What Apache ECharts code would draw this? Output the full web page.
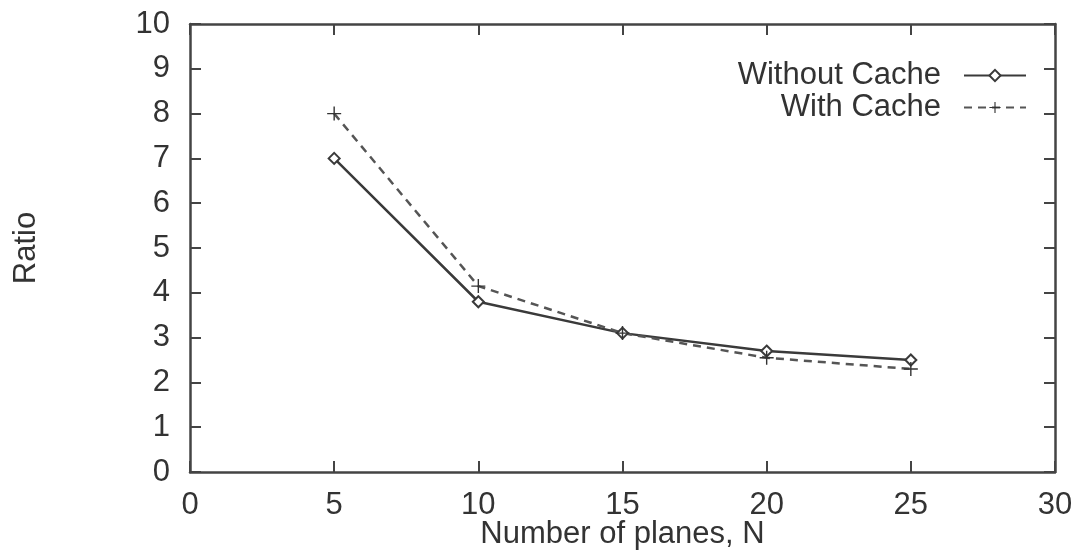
<!DOCTYPE html>
<html>
<head>
<meta charset="utf-8">
<script src="https://cdn.jsdelivr.net/npm/echarts@6/dist/echarts.min.js"></script>
<style>
html,body{margin:0;padding:0;background:#fff;}
#chart{width:1084px;height:555px;}
</style>
</head>
<body>
<div id="chart"></div>
<script>
const planes = [5, 10, 15, 20, 25];
const withoutCache = [7.0, 3.8, 3.1, 2.7, 2.5];
const withCache = [8.0, 4.15, 3.1, 2.55, 2.3];
const xTicks = [0, 5, 10, 15, 20, 25, 30];
const yTicks = [0, 1, 2, 3, 4, 5, 6, 7, 8, 9, 10];

const FONT = 'Liberation Sans';
const FS = 31;
const AXC = '#444';
const TXT = '#333';
const plusPath = 'path://M-1,-10H1V-1H10V1H1V10H-1V1H-10V-1H-1Z';

const chart = echarts.init(document.getElementById('chart'));
const baseAxis = {
  axisLine: {show: true, onZero: false, lineStyle: {color: AXC, width: 2.5}},
  axisTick: {show: true, inside: true, length: 11, lineStyle: {color: AXC, width: 2}},
  splitLine: {show: false}
};
chart.setOption({
  animation: false,
  backgroundColor: '#fff',
  grid: {left: 190, right: 29, top: 24, bottom: 83, containLabel: false, outerBoundsMode: 'none'},
  legend: {
    right: 52, top: 55, orient: 'vertical', align: 'right',
    itemWidth: 62, itemHeight: 14, itemGap: 1,
    textStyle: {fontFamily: FONT, fontSize: FS, color: TXT, lineHeight: 30, padding: [0, 18, 0, 0]},
    data: ['Without Cache', 'With Cache']
  },
  xAxis: [
    Object.assign({}, baseAxis, {
      type: 'value', min: 0, max: 30, interval: 5, position: 'bottom',
      name: 'Number of planes, N', nameLocation: 'middle', nameGap: 47, nameMoveOverlap: false,
      nameTextStyle: {fontFamily: FONT, fontSize: FS, color: TXT},
      axisLabel: {fontFamily: FONT, fontSize: FS, color: TXT, margin: 18,
        formatter: v => xTicks.includes(v) ? String(v) : ''}
    }),
    Object.assign({}, baseAxis, {
      type: 'value', min: 0, max: 30, interval: 5, position: 'top',
      axisLabel: {show: false}
    })
  ],
  yAxis: [
    Object.assign({}, baseAxis, {
      type: 'value', min: 0, max: 10, interval: 1, position: 'left',
      name: 'Ratio', nameLocation: 'middle', nameGap: 148, nameRotate: 90, nameMoveOverlap: false,
      nameTextStyle: {fontFamily: FONT, fontSize: FS, color: TXT},
      axisLabel: {fontFamily: FONT, fontSize: FS, color: TXT, margin: 20,
        formatter: v => yTicks.includes(v) ? String(v) : ''}
    }),
    Object.assign({}, baseAxis, {
      type: 'value', min: 0, max: 10, interval: 1, position: 'right',
      axisLabel: {show: false}
    })
  ],
  series: [
    {
      name: 'Without Cache', type: 'line',
      data: planes.map((x, i) => [x, withoutCache[i]]),
      symbol: 'emptyDiamond', symbolSize: 11,
      lineStyle: {color: '#3a3a3a', width: 2.5},
      itemStyle: {color: '#3a3a3a', borderWidth: 2}
    },
    {
      name: 'With Cache', type: 'line',
      data: planes.map((x, i) => [x, withCache[i]]),
      symbol: plusPath, symbolSize: 14,
      lineStyle: {color: '#555', width: 2.5, type: [8, 6]},
      itemStyle: {color: '#333'}
    }
  ]
});
</script>
</body>
</html>
